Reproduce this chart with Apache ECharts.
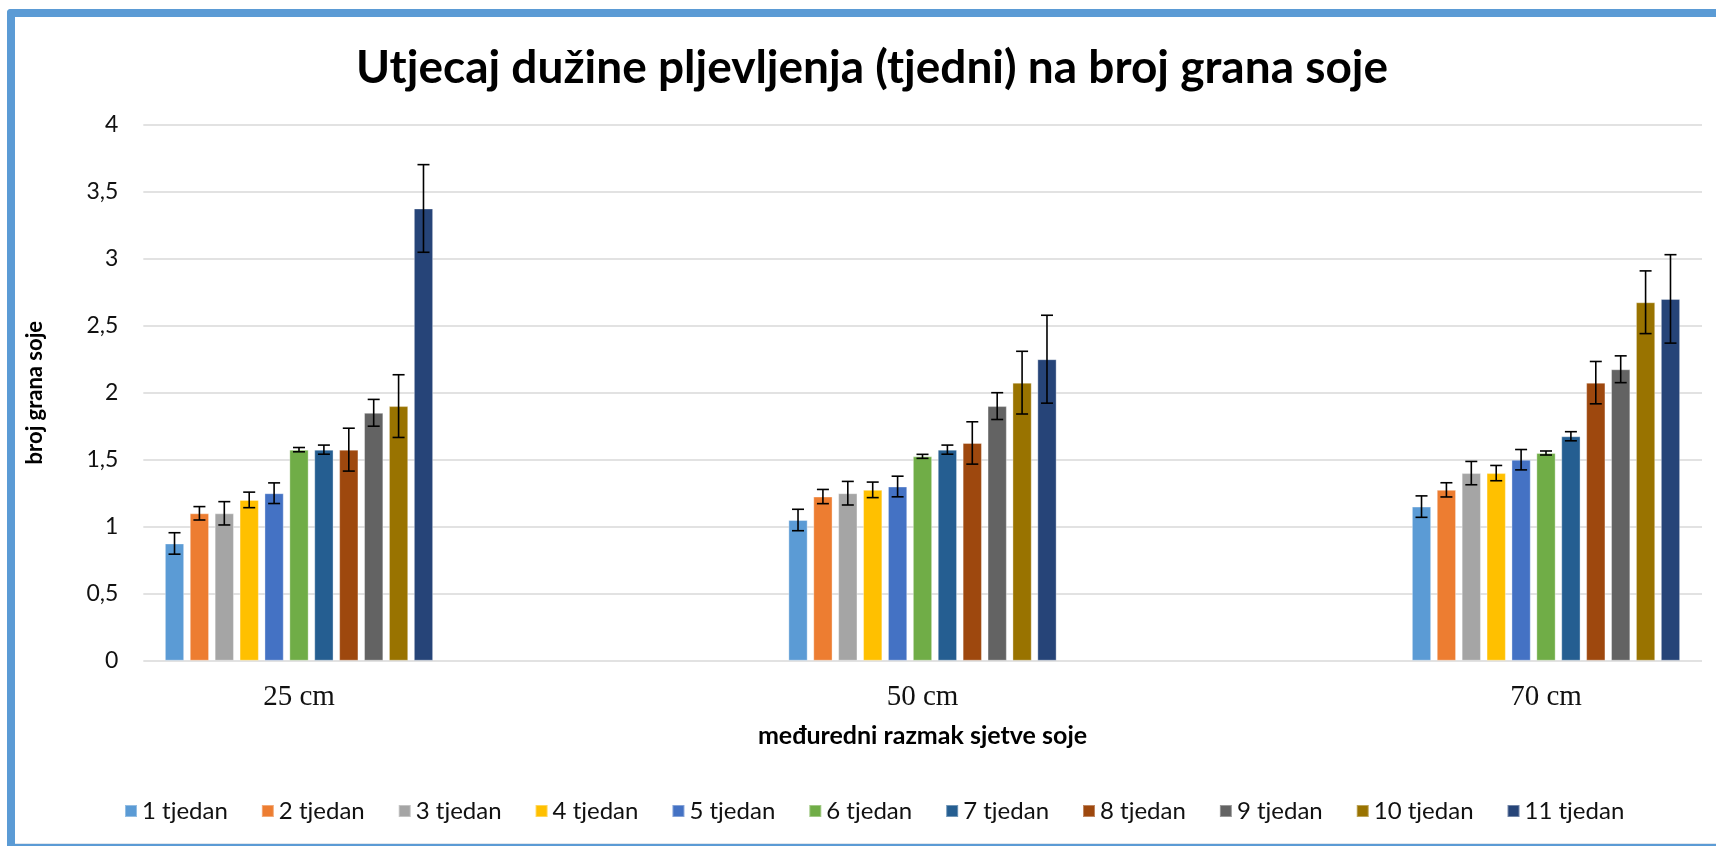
<!DOCTYPE html>
<html>
<head>
<meta charset="utf-8">
<script src="https://cdn.jsdelivr.net/npm/echarts@6/dist/echarts.min.js"></script>
<style>
html,body{margin:0;padding:0;background:#fff;}
#chart{width:1716px;height:846px;}
</style>
</head>
<body>
<div id="chart"></div>
<script>
// ---- data ----
const categories = ['25 cm', '50 cm', '70 cm'];
const weekNames = ['1 tjedan','2 tjedan','3 tjedan','4 tjedan','5 tjedan','6 tjedan','7 tjedan','8 tjedan','9 tjedan','10 tjedan','11 tjedan'];
// mean number of branches per week, for each row spacing
const val25 = [0.875, 1.1, 1.1, 1.2, 1.25, 1.575, 1.575, 1.575, 1.85, 1.9, 3.375];
const val50 = [1.05, 1.225, 1.25, 1.275, 1.3, 1.525, 1.575, 1.625, 1.9, 2.075, 2.25];
const val70 = [1.15, 1.275, 1.4, 1.4, 1.5, 1.55, 1.675, 2.075, 2.175, 2.675, 2.7];
// error bar half-widths
const err25 = [0.08, 0.05, 0.087, 0.058, 0.077, 0.016, 0.034, 0.16, 0.1, 0.234, 0.327];
const err50 = [0.08, 0.053, 0.088, 0.058, 0.077, 0.015, 0.034, 0.158, 0.1, 0.234, 0.328];
const err70 = [0.08, 0.053, 0.087, 0.057, 0.076, 0.015, 0.034, 0.158, 0.1, 0.234, 0.33];
const yTicks = ['0','0,5','1','1,5','2','2,5','3','3,5','4'];

// ---- styles ----
const colors = ['#5B9BD5','#ED7D31','#A5A5A5','#FFC000','#4472C4','#70AD47','#255E91','#9E480E','#636363','#997300','#264478'];
const FONT = 'Lato, "Open Sans", sans-serif';
const BAR_W = 19.3;
const BAR_GAP = 0.29;
const STEP = BAR_W * (1 + BAR_GAP);
const CAP = 12;

const valsByCat = [val25, val50, val70];
const errsByCat = [err25, err50, err70];

const series = [];
weekNames.forEach((name, k) => {
  series.push({
    name: name,
    type: 'bar',
    xAxisIndex: 1, yAxisIndex: 1,
    barWidth: BAR_W,
    barGap: (BAR_GAP * 100) + '%',
    itemStyle: { color: colors[k], borderColor: 'rgba(255,255,255,0.35)', borderWidth: 1 },
    data: valsByCat.map(v => v[k]),
    z: 2
  });
});
weekNames.forEach((name, k) => {
  const n = weekNames.length;
  series.push({
    name: 'err_' + name,
    type: 'custom',
    xAxisIndex: 1, yAxisIndex: 1,
    z: 5,
    encode: { x: 0, y: [1, 2] },
    data: valsByCat.map((v, c) => [c, v[k] - errsByCat[c][k], v[k] + errsByCat[c][k]]),
    renderItem: function (params, api) {
      const lo = api.coord([api.value(0), api.value(1)]);
      const hi = api.coord([api.value(0), api.value(2)]);
      const x = lo[0] + (k - (n - 1) / 2) * STEP;
      const st = { stroke: '#000', lineWidth: 1.6 };
      return {
        type: 'group',
        children: [
          { type: 'line', shape: { x1: x, y1: hi[1], x2: x, y2: lo[1] }, style: st },
          { type: 'line', shape: { x1: x - CAP / 2, y1: hi[1], x2: x + CAP / 2, y2: hi[1] }, style: st },
          { type: 'line', shape: { x1: x - CAP / 2, y1: lo[1], x2: x + CAP / 2, y2: lo[1] }, style: st }
        ]
      };
    }
  });
});

const chart = echarts.init(document.getElementById('chart'), null, { renderer: 'canvas' });
const gridTop = 124.7, gridBottom = 846 - 660.7;
chart.setOption({
  backgroundColor: '#fff',
  animation: false,
  color: colors,
  title: {
    text: 'Utjecaj dužine pljevljenja (tjedni) na broj grana soje',
    left: 872, top: 45, textAlign: 'center', padding: 0,
    textStyle: { fontFamily: FONT, fontWeight: 'bold', fontSize: 46, color: '#000' }
  },
  legend: {
    data: weekNames,
    left: 124, top: 798, padding: 0,
    itemWidth: 12, itemHeight: 12, itemGap: 33,
    icon: 'rect',
    textStyle: { fontFamily: FONT, fontSize: 24, color: '#111', lineHeight: 26 }
  },
  grid: [
    { left: 143.3, right: 14, top: gridTop, bottom: gridBottom },
    { left: 299, right: 1716 - 1546, top: gridTop, bottom: gridBottom }
  ],
  xAxis: [
    { type: 'category', gridIndex: 0, data: categories, show: false },
    {
      type: 'category', gridIndex: 1, data: categories, boundaryGap: false,
      axisLine: { show: false }, axisTick: { show: false },
      axisLabel: { margin: 22, fontFamily: '"Liberation Serif", "Times New Roman", serif', fontSize: 29, color: '#111' },
      name: 'međuredni razmak sjetve soje', nameLocation: 'middle', nameGap: 63,
      nameTextStyle: { fontFamily: FONT, fontWeight: 'bold', fontSize: 25, color: '#000' }
    }
  ],
  yAxis: [
    {
      type: 'value', gridIndex: 0, min: 0, max: 4, interval: 0.5,
      axisLine: { show: false }, axisTick: { show: false },
      splitLine: { show: true, lineStyle: { color: '#d9d9d9', width: 1.5 } },
      axisLabel: {
        margin: 25, fontFamily: FONT, fontSize: 23, color: '#111',
        formatter: (v) => yTicks[Math.round(v / 0.5)]
      },
      name: 'broj grana soje', nameLocation: 'middle', nameGap: 97, nameRotate: 90,
      nameTextStyle: { fontFamily: FONT, fontWeight: 'bold', fontSize: 22, color: '#000' }
    },
    { type: 'value', gridIndex: 1, min: 0, max: 4, interval: 0.5, show: false, splitLine: { show: false } }
  ],
  series: series,
  graphic: [
    { type: 'rect', shape: { x: 7, y: 9, width: 1716 - 7, height: 8, r: [4, 0, 0, 0] }, style: { fill: '#5B9BD5' }, z: 100 },
    { type: 'rect', shape: { x: 7, y: 9, width: 8, height: 846 - 9, r: [4, 0, 0, 0] }, style: { fill: '#5B9BD5' }, z: 100 },
    { type: 'rect', shape: { x: 15, y: 843, width: 1716 - 15, height: 1 }, style: { fill: '#dfe6ee' }, z: 100 },
    { type: 'rect', shape: { x: 7, y: 844, width: 1716 - 7, height: 2 }, style: { fill: '#5B9BD5' }, z: 100 }
  ]
});
</script>
</body>
</html>
